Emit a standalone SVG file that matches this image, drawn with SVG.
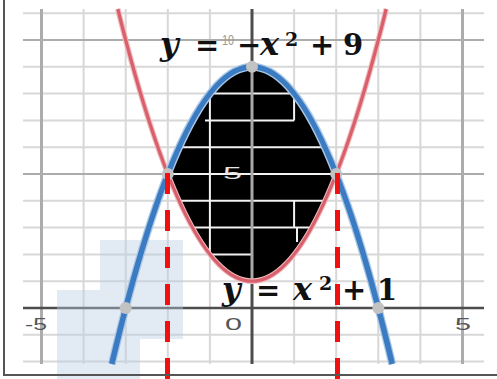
<svg xmlns="http://www.w3.org/2000/svg" width="497" height="379" viewBox="0 0 497 379">
<defs>
<style>
.minor{stroke:#d8d8d8;stroke-width:2;fill:none}
.major{stroke:#acacac;stroke-width:3;fill:none}
.axis{stroke:#4d4d4d;fill:none}
.inner{stroke:#f2f2f2;stroke-width:2;fill:none}
.ax{font-family:"Liberation Sans",Arial,sans-serif;font-size:17px;fill:#555}
.eq{font-family:"DejaVu Serif",serif;font-weight:bold;font-size:29px;fill:#111}
.it{font-style:italic;font-size:32px}
.sup{font-size:19px}
.dot{fill:#c2c2c2}
.dash{stroke:#f01010;stroke-width:5;stroke-dasharray:21 16;fill:none}
</style>
<clipPath id="reg">
<path d="M167.8,174 Q252,-40.4 336.2,174 Q252,388.4 167.8,174 Z"/>
</clipPath>
</defs>
<rect width="497" height="379" fill="#fff"/>
<g id="grid">
<g class="minor">
<path d="M83.6,9V364M125.7,9V364M167.8,9V364M209.9,9V364M294.1,9V364M336.2,9V364M378.3,9V364M420.4,9V364"/>
<path d="M23,13.2H484M23,66.8H484M23,93.6H484M23,120.4H484M23,147.2H484M23,200.8H484M23,227.6H484M23,254.4H484M23,281.2H484M23,334.8H484M23,361.6H484"/>
</g>
<g class="major">
<path d="M41.5,9V364M462.5,9V364"/>
<path d="M23,40H484M23,174H484" stroke-width="2"/>
</g>
<path class="axis" d="M23,308H484" stroke-width="2.5"/>
<path class="axis" d="M252,9V364" stroke-width="3"/>
</g>
<g id="watermark" fill="#b9cce3" opacity="0.4">
<rect x="100" y="240" width="83" height="99"/>
<rect x="57" y="290" width="83" height="89"/>
</g>
<g id="region">
<path d="M167.8,174 Q252,-40.4 336.2,174 Q252,388.4 167.8,174 Z" fill="#000"/>
<g clip-path="url(#reg)">
<path class="inner" d="M150,147.2H350M150,174H350M150,200.8H350M150,227.6H350"/>
<path class="inner" d="M209.9,93.6V254.4M294.1,93.6V120.4M294.1,200.8V227.6M297,227.6V242M205,120.4H294.1M209.9,93.6H294.1M209.9,254.4H252"/>
<path d="M252,40V300" stroke="#a8a8a8" stroke-width="3"/>
</g>
</g>
<g id="axis-labels">
<text class="ax" x="25" y="330" textLength="22" lengthAdjust="spacingAndGlyphs">-5</text>
<text class="ax" x="225" y="330" textLength="17" lengthAdjust="spacingAndGlyphs">0</text>
<text class="ax" x="455" y="330" textLength="16" lengthAdjust="spacingAndGlyphs">5</text>
<text class="ax" x="223" y="179" textLength="19" lengthAdjust="spacingAndGlyphs" style="fill:#e6e6e6">5</text>
<text class="ax" x="222" y="45" textLength="12" lengthAdjust="spacingAndGlyphs" style="fill:#9a9a9a;font-size:14px">10</text>
</g>
<g id="curves">
<path d="M117.8,9 Q252,553.4 386.2,9" stroke="#f1b9be" stroke-width="5.5" fill="none"/>
<path d="M117.8,9 Q252,553.4 386.2,9" stroke="#d8606b" stroke-width="3.2" fill="none"/>
<path d="M111.8,364 Q252,-230.4 392.2,364" stroke="#a9c7e7" stroke-width="8" fill="none"/>
<path d="M111.8,364 Q252,-230.4 392.2,364" stroke="#3b7bc1" stroke-width="5.5" fill="none"/>
</g>
<g id="points">
<circle class="dot" cx="252" cy="66.8" r="6"/>
<circle class="dot" cx="167.8" cy="174" r="6"/>
<circle class="dot" cx="336.2" cy="174" r="6"/>
<circle class="dot" cx="125.7" cy="308" r="6"/>
<circle class="dot" cx="378.3" cy="308" r="6"/>
</g>
<g id="eq1">
<text class="eq" y="55"><tspan class="it" x="160">y</tspan><tspan x="195">=</tspan><tspan x="237">−</tspan><tspan class="it" x="260">x</tspan><tspan class="sup" x="285" y="46">2</tspan><tspan x="310" y="55">+</tspan><tspan x="343">9</tspan></text>
</g>
<g id="eq2">
<text class="eq" y="300"><tspan class="it" x="222">y</tspan><tspan x="256">=</tspan><tspan class="it" x="293">x</tspan><tspan class="sup" x="319" y="290">2</tspan><tspan x="342" y="300">+</tspan><tspan x="377">1</tspan></text>
</g>
<g id="dashes">
<path class="dash" d="M167.5,173V379"/>
<path class="dash" d="M337.5,173V379"/>
</g>
<g id="frame" stroke="#555" stroke-width="2" fill="none">
<path d="M4,0V375H497"/>
</g>
</svg>
